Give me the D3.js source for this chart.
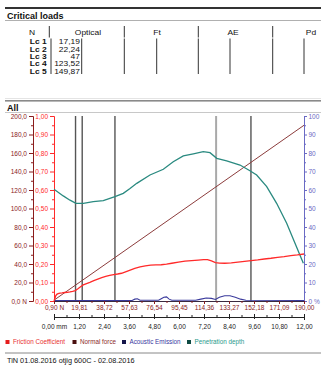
<!DOCTYPE html>
<html>
<head>
<meta charset="utf-8">
<script src="https://cdn.jsdelivr.net/npm/d3@7/dist/d3.min.js"></script>
<style>
  html, body { margin: 0; padding: 0; background: #fff; }
  svg { display: block; font-family: "Liberation Sans", Arial, sans-serif; }
</style>
</head>
<body>
<svg id="chart" width="321" height="365"></svg>
<script>
// Critical loads table
const criticalNames = ["Lc 1", "Lc 2", "Lc 3", "Lc 4", "Lc 5"];
const criticalOptical = [17.19, 22.24, 47, 123.52, 149.87];
const tableHeaders = ["N", "Optical", "Ft", "AE", "Pd"];

// Axis ticks
const loadTicks = [0.90, 19.81, 38.72, 57.63, 76.54, 95.45, 114.36, 133.27, 152.18, 171.09, 190.00];
const distanceTicks = [0, 1.2, 2.4, 3.6, 4.8, 6.0, 7.2, 8.4, 9.6, 10.8, 12.0];
const forceTicks = [0, 20, 40, 60, 80, 100, 120, 140, 160, 180, 200];
const frictionTicks = [0, 0.1, 0.2, 0.3, 0.4, 0.5, 0.6, 0.7, 0.8, 0.9, 1.0];
const percentTicks = [0, 10, 20, 30, 40, 50, 60, 70, 80, 90, 100];

// Series: normal force (N) vs load
const normalLoad = [0.9, 190];
const normalForce = [0.9, 190];

// Friction coefficient vs load
const frictionLoad = [0.9, 1.5, 2.2, 3, 4, 5.5, 7, 9, 11, 13, 15, 17, 19, 21, 23, 25, 28, 31, 34, 37, 40, 43, 46, 49, 52, 55, 58, 62, 66, 70, 74, 78, 82, 86, 90, 95, 100, 105, 110, 114, 117, 120, 123, 126, 130, 135, 140, 145, 150, 155, 160, 165, 170, 175, 180, 185, 190];
const frictionCoef = [0, 0.012, 0.028, 0.036, 0.040, 0.043, 0.044, 0.046, 0.047, 0.049, 0.052, 0.056, 0.066, 0.077, 0.087, 0.093, 0.101, 0.110, 0.118, 0.126, 0.133, 0.139, 0.143, 0.146, 0.150, 0.158, 0.166, 0.176, 0.184, 0.190, 0.194, 0.195, 0.196, 0.199, 0.204, 0.210, 0.215, 0.218, 0.221, 0.224, 0.224, 0.217, 0.208, 0.205, 0.204, 0.206, 0.210, 0.214, 0.218, 0.222, 0.227, 0.231, 0.236, 0.240, 0.245, 0.249, 0.254];

// Penetration depth (right axis, %) vs load
const depthLoad = [0.9, 1.7, 7.9, 13, 17.5, 23.1, 30.6, 38.2, 47, 53.3, 58.4, 63.5, 73.5, 83.6, 91.1, 98.7, 106.3, 113.8, 118.9, 124, 131.5, 141.6, 149.1, 154.2, 161.8, 169.3, 176.9, 183.2, 189.5];
const depthValue = [60.3, 60, 56.8, 54.5, 52.8, 52.8, 53.7, 54.2, 56.4, 58.2, 60.8, 63.6, 68.1, 71.2, 75.3, 78.4, 79.5, 80.7, 80.2, 77.1, 75.8, 73.5, 70.4, 68.1, 61.8, 52.8, 42, 31.2, 20.4];

// Acoustic emission (right axis, %) vs load
const aeLoad = [0.9, 60, 62, 64, 66, 80, 82, 84, 86, 88, 90, 108, 112, 116, 120, 123, 126, 130, 134, 138, 142, 146, 190];
const aeValue = [0.3, 0.3, 1.0, 1.2, 0.4, 0.4, 1.2, 2.0, 2.2, 1.0, 0.4, 0.4, 1.0, 1.6, 1.4, 0.8, 2.0, 2.8, 2.8, 2.0, 1.0, 0.4, 0.3];

const legendItems = [
  { name: "Friction Coefficient", box: "#e51c1c", text: "#e83030" },
  { name: "Normal force", box: "#4a0f0f", text: "#8b2a2a" },
  { name: "Acoustic Emission", box: "#15154a", text: "#3838a0" },
  { name: "Penetration depth", box: "#0e4a42", text: "#2a9a8c" }
];
const footerText = "TiN 01.08.2016 otjig 600C - 02.08.2016";

const C = {
  maroon: "#8b1c1c",
  red: "#ff2a2a",
  blue: "#6a6ac4",
  normal: "#8c3c3c",
  depth: "#2a8a80",
  ae: "#3a3a9c"
};

const svg = d3.select("#chart");
const fmt = (d, n) => d.toFixed(n).replace(".", ",");

// ---------- Critical loads section ----------
svg.append("rect").attr("x", 5).attr("y", 7).attr("width", 316).attr("height", 2).attr("fill", "#333");
svg.append("text").attr("x", 7).attr("y", 18.5).attr("font-size", 9).attr("font-weight", "bold").attr("fill", "#111").text("Critical loads");
svg.append("line").attr("x1", 5).attr("x2", 321).attr("y1", 20.5).attr("y2", 20.5).attr("stroke", "#b0b0b0");

// table text is set in a compact, horizontally widened face
const TS = 6.6, SX = 1.28;
function tableText(sel, xFn, yFn, anchor) {
  return sel.attr("transform", (d, i) => `translate(${xFn(d, i)},${yFn(d, i)}) scale(${SX},1)`)
    .attr("text-anchor", anchor).attr("font-size", TS).attr("fill", "#111");
}

const headerX = [32, 88, 157, 233, 311];
tableText(svg.selectAll(".hdr").data(tableHeaders).join("text"),
  (d, i) => headerX[i], () => 34.5, "middle").text(d => d);
[49.3, 124.3, 198.3, 272.7].forEach(x => {
  svg.append("line").attr("x1", x).attr("x2", x).attr("y1", 26).attr("y2", 37.5).attr("stroke", "#333");
});
[51, 81.7, 124.3, 156.7, 198.3, 230, 272.7, 304].forEach(x => {
  svg.append("line").attr("x1", x).attr("x2", x).attr("y1", 38.5).attr("y2", 74).attr("stroke", "#333");
});
const rowY = d3.scaleLinear().domain([0, 4]).range([44.2, 73.8]);
tableText(svg.selectAll(".lcname").data(criticalNames).join("text"),
  () => 46.7, (d, i) => rowY(i), "end")
  .attr("font-weight", "bold").text(d => d);
tableText(svg.selectAll(".lcval").data(criticalOptical).join("text"),
  () => 80, (d, i) => rowY(i), "end")
  .text(d => Number.isInteger(d) ? String(d) : fmt(d, 2));
svg.append("line").attr("x1", 5).attr("x2", 321).attr("y1", 98.5).attr("y2", 98.5).attr("stroke", "#e4e4e4");

// ---------- "All" section ----------
svg.append("rect").attr("x", 5).attr("y", 100).attr("width", 316).attr("height", 1.6).attr("fill", "#8a8a8a");
svg.append("text").attr("x", 7).attr("y", 110.5).attr("font-size", 9).attr("font-weight", "bold").attr("fill", "#111").text("All");
svg.append("line").attr("x1", 5).attr("x2", 321).attr("y1", 112.5).attr("y2", 112.5).attr("stroke", "#c8c8c8");

// ---------- Plot ----------
const X0 = 54, X1 = 304, Y0 = 301, Y1 = 116;
const x = d3.scaleLinear().domain([0.9, 190]).range([X0, X1]);
const xmm = d3.scaleLinear().domain([0, 12]).range([X0, X1]);
const yForce = d3.scaleLinear().domain([0, 200]).range([Y0, Y1]);
const yFric = d3.scaleLinear().domain([0, 1]).range([Y0, Y1]);
const yPct = d3.scaleLinear().domain([0, 100]).range([Y0, Y1]);

function styleAxis(g, lineColor, textColor) {
  g.selectAll("path.domain").attr("stroke", lineColor);
  g.selectAll("line").attr("stroke", lineColor);
  g.selectAll("text").attr("fill", textColor).attr("font-size", 6.5)
    .attr("font-family", "'Liberation Sans', Arial, sans-serif");
}
function minor(g, color) {
  g.select(".domain").remove();
  g.selectAll("line").attr("stroke", color);
}

// Left force axis (N)
const gForce = svg.append("g").attr("transform", "translate(33,0)")
  .call(d3.axisLeft(yForce).tickValues(forceTicks).tickSize(4).tickPadding(2)
    .tickFormat(d => d === 0 ? "0,0 N" : fmt(d, 1)));
styleAxis(gForce, C.maroon, C.maroon);
svg.append("g").attr("transform", "translate(33,0)")
  .call(d3.axisLeft(yForce).tickValues(d3.range(10, 200, 20)).tickSize(2).tickFormat(""))
  .call(minor, C.maroon);

// Friction coefficient axis
const gFric = svg.append("g").attr("transform", `translate(${X0},0)`)
  .call(d3.axisLeft(yFric).tickValues(frictionTicks).tickSize(4).tickPadding(2)
    .tickFormat(d => fmt(d, 2)));
styleAxis(gFric, C.red, C.red);
svg.append("g").attr("transform", `translate(${X0},0)`)
  .call(d3.axisLeft(yFric).tickValues(d3.range(0.05, 1, 0.1)).tickSize(2).tickFormat(""))
  .call(minor, C.red);

// Right percentage axis
const gPct = svg.append("g").attr("transform", `translate(${X1},0)`)
  .call(d3.axisRight(yPct).tickValues(percentTicks).tickSize(3).tickPadding(1.5)
    .tickFormat(d => d === 0 ? "0 %" : String(d)));
styleAxis(gPct, C.blue, C.blue);
svg.append("g").attr("transform", `translate(${X1},0)`)
  .call(d3.axisRight(yPct).tickValues(d3.range(5, 100, 10)).tickSize(2).tickFormat(""))
  .call(minor, C.blue);

// Bottom load axis
const gLoad = svg.append("g").attr("transform", `translate(0,${Y0})`)
  .call(d3.axisBottom(x).tickValues(loadTicks).tickSize(3).tickPadding(1.5)
    .tickFormat((d, i) => i === 0 ? "0,90 N" : fmt(d, 2)));
styleAxis(gLoad, "#3a2a40", C.maroon);
gLoad.selectAll(".tick line").attr("stroke", C.maroon);
svg.append("g").attr("transform", `translate(0,${Y0})`)
  .call(d3.axisBottom(x).tickValues(loadTicks.slice(1).map((d, i) => (d + loadTicks[i]) / 2)).tickSize(2).tickFormat(""))
  .call(minor, C.maroon);

// Distance axis (mm)
const gMm = svg.append("g").attr("transform", "translate(0,317)")
  .call(d3.axisBottom(xmm).tickValues(distanceTicks).tickSize(3).tickPadding(4)
    .tickFormat((d, i) => i === 0 ? "0,00 mm" : fmt(d, 2)));
styleAxis(gMm, "#222", "#222");
gMm.selectAll(".tick line").attr("y1", -3).attr("y2", 2);
svg.append("g").attr("transform", "translate(0,317)")
  .call(d3.axisBottom(xmm).tickValues(distanceTicks.slice(1).map(d => d - 0.6)).tickSize(0).tickFormat(""))
  .call(minor, "#222")
  .call(g => g.selectAll(".tick line").attr("y1", -2).attr("y2", 0));

// Critical load markers
criticalOptical.forEach((v, i) => {
  svg.append("line")
    .attr("x1", x(v)).attr("x2", x(v)).attr("y1", Y1).attr("y2", Y0)
    .attr("stroke", i === 3 ? "#a9a9a9" : "#555")
    .attr("stroke-width", i === 3 ? 2 : 1.4);
});

// Data lines
const lineOf = (xs, ys, yScale) => d3.line()
  .x((d, i) => x(xs[i])).y((d, i) => yScale(ys[i]))(xs);

svg.append("path").attr("d", lineOf(normalLoad, normalForce, yForce))
  .attr("fill", "none").attr("stroke", C.normal).attr("stroke-width", 1);
svg.append("path").attr("d", lineOf(aeLoad, aeValue, yPct))
  .attr("fill", "none").attr("stroke", C.ae).attr("stroke-width", 1.1);
svg.append("path").attr("d", lineOf(depthLoad, depthValue, yPct))
  .attr("fill", "none").attr("stroke", C.depth).attr("stroke-width", 1.3);
svg.append("path").attr("d", lineOf(frictionLoad, frictionCoef, yFric))
  .attr("fill", "none").attr("stroke", C.red).attr("stroke-width", 1.3);

// Legend
const legendX = [5.5, 72.5, 122, 187];
const lg = svg.selectAll(".legend").data(legendItems).join("g")
  .attr("transform", (d, i) => `translate(${legendX[i]},340)`);
lg.append("rect").attr("width", 4).attr("height", 4).attr("fill", d => d.box);
lg.append("text").attr("x", 7.5).attr("y", 4).attr("font-size", 6.3).attr("fill", d => d.text).text(d => d.name);

// Footer
svg.append("line").attr("x1", 5).attr("x2", 321).attr("y1", 353).attr("y2", 353).attr("stroke", "#888");
svg.append("text").attr("x", 7).attr("y", 362.5).attr("font-size", 7.3).attr("fill", "#111").text(footerText);
</script>
</body>
</html>
